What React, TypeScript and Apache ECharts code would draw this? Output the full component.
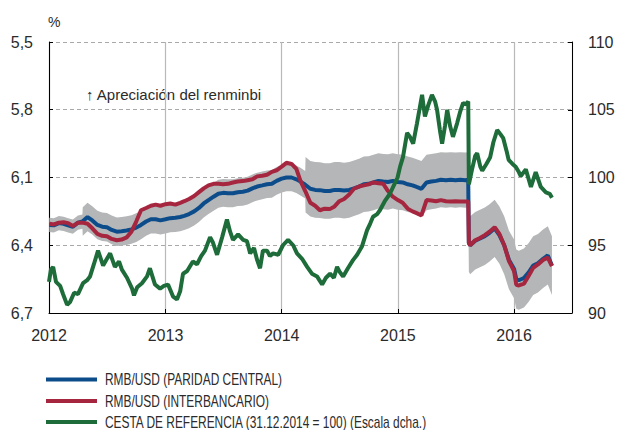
import React, { useEffect, useRef } from 'react';
import * as echarts from 'echarts';

// Shared dates for central parity, interbank rate and fluctuation band
const dates = [
  '2012-01-02','2012-01-16','2012-02-01','2012-02-16','2012-03-01','2012-03-16','2012-04-01','2012-04-15','2012-04-16',
  '2012-05-01','2012-05-16','2012-06-01','2012-06-16','2012-07-01','2012-07-16','2012-08-01','2012-08-16','2012-09-01',
  '2012-09-16','2012-10-01','2012-10-16','2012-11-01','2012-11-16','2012-12-01','2012-12-16',
  '2013-01-01','2013-01-16','2013-02-01','2013-02-16','2013-03-01','2013-03-16','2013-04-01','2013-04-16','2013-05-01',
  '2013-05-16','2013-06-01','2013-06-16','2013-07-01','2013-07-16','2013-08-01','2013-08-16','2013-09-01','2013-09-16',
  '2013-10-01','2013-10-16','2013-11-01','2013-11-16','2013-12-01','2013-12-16',
  '2014-01-01','2014-01-16','2014-02-01','2014-02-16','2014-03-01','2014-03-16','2014-03-17','2014-04-01','2014-04-16',
  '2014-05-01','2014-05-16','2014-06-01','2014-06-16','2014-07-01','2014-07-16','2014-08-01','2014-08-16','2014-09-01',
  '2014-09-16','2014-10-01','2014-10-16','2014-11-01','2014-11-16','2014-12-01','2014-12-16',
  '2015-01-01','2015-01-16','2015-02-01','2015-02-16','2015-03-01','2015-03-16','2015-04-01','2015-04-16','2015-05-01',
  '2015-05-16','2015-06-01','2015-06-16','2015-07-01','2015-07-16','2015-08-01','2015-08-10','2015-08-12','2015-08-16',
  '2015-09-01','2015-09-16','2015-10-01','2015-10-16','2015-11-01','2015-11-16','2015-12-01','2015-12-16',
  '2016-01-01','2016-01-08','2016-01-16','2016-02-01','2016-02-16','2016-03-01','2016-03-16','2016-04-01','2016-04-16',
  '2016-04-29'
];

const centralParity = [
  6.310, 6.312, 6.302, 6.305, 6.312, 6.318, 6.300, 6.295, 6.295,
  6.275, 6.290, 6.310, 6.318, 6.320, 6.332, 6.340, 6.338, 6.335,
  6.330, 6.322, 6.310, 6.295, 6.285, 6.285, 6.290,
  6.285, 6.280, 6.278, 6.275, 6.270, 6.262, 6.250, 6.235, 6.215,
  6.200, 6.185, 6.172, 6.168, 6.170, 6.170, 6.165, 6.163, 6.158,
  6.148, 6.140, 6.135, 6.130, 6.128, 6.115,
  6.105, 6.100, 6.100, 6.108, 6.118, 6.132, 6.132, 6.150, 6.155,
  6.156, 6.160, 6.160, 6.155, 6.155, 6.158, 6.155, 6.148, 6.140,
  6.130, 6.128, 6.122, 6.115, 6.118, 6.120, 6.115,
  6.120, 6.122, 6.130, 6.135, 6.142, 6.150, 6.122, 6.118, 6.115,
  6.110, 6.112, 6.110, 6.112, 6.110, 6.112, 6.110, 6.390, 6.400,
  6.380, 6.370, 6.360, 6.345, 6.325, 6.355, 6.400, 6.465,
  6.505, 6.550, 6.555, 6.545, 6.520, 6.490, 6.480, 6.460, 6.445,
  6.490
];

const interbank = [
  6.305, 6.308, 6.300, 6.298, 6.302, 6.315, 6.300, 6.300, 6.300,
  6.305, 6.325, 6.350, 6.358, 6.360, 6.372, 6.378, 6.375, 6.365,
  6.340, 6.295, 6.245, 6.235, 6.225, 6.220, 6.225,
  6.218, 6.215, 6.220, 6.212, 6.205, 6.195, 6.182, 6.165, 6.148,
  6.135, 6.128, 6.128, 6.130, 6.128, 6.122, 6.118, 6.116, 6.112,
  6.108, 6.095, 6.092, 6.088, 6.075, 6.068,
  6.052, 6.035, 6.040, 6.062, 6.115, 6.160, 6.160, 6.212, 6.225,
  6.245, 6.238, 6.240, 6.228, 6.205, 6.195, 6.175, 6.150, 6.140,
  6.135, 6.130, 6.122, 6.125, 6.128, 6.160, 6.185,
  6.200, 6.212, 6.238, 6.250, 6.258, 6.268, 6.200, 6.202, 6.205,
  6.200, 6.205, 6.206, 6.205, 6.206, 6.206, 6.206, 6.390, 6.400,
  6.378, 6.368, 6.355, 6.340, 6.320, 6.350, 6.400, 6.470,
  6.515, 6.575, 6.578, 6.570, 6.535, 6.500, 6.485, 6.465, 6.455,
  6.492
];

// Permitted fluctuation around the central parity (%)
const bandLimitPct = [
  0.5, 0.5, 0.5, 0.5, 0.5, 0.5, 0.5, 0.5, 1,
  1, 1, 1, 1, 1, 1, 1, 1, 1,
  1, 1, 1, 1, 1, 1, 1,
  1, 1, 1, 1, 1, 1, 1, 1, 1,
  1, 1, 1, 1, 1, 1, 1, 1, 1,
  1, 1, 1, 1, 1, 1,
  1, 1, 1, 1, 1, 1, 2, 2, 2,
  2, 2, 2, 2, 2, 2, 2, 2, 2,
  2, 2, 2, 2, 2, 2, 2,
  2, 2, 2, 2, 2, 2, 2, 2, 2,
  2, 2, 2, 2, 2, 2, 2, 2, 2,
  2, 2, 2, 2, 2, 2, 2, 2,
  2, 2, 2, 2, 2, 2, 2, 2, 2,
  2
];

const basketDates = [
  '2012-01-01','2012-01-07','2012-01-14','2012-01-23','2012-02-05','2012-02-14','2012-02-27','2012-03-07','2012-03-20',
  '2012-04-01','2012-04-17','2012-04-29','2012-05-09','2012-05-21','2012-06-03','2012-06-19','2012-07-01','2012-07-11',
  '2012-07-26','2012-08-08','2012-08-17','2012-09-02','2012-09-18','2012-09-24','2012-10-04','2012-10-19','2012-11-04',
  '2012-11-13','2012-11-29','2012-12-15','2012-12-27',
  '2013-01-09','2013-01-25','2013-02-06','2013-02-16','2013-02-25','2013-03-10','2013-03-28','2013-04-10','2013-04-23',
  '2013-05-05','2013-05-21','2013-05-30','2013-06-12','2013-06-28','2013-07-13','2013-07-23','2013-08-01','2013-08-17',
  '2013-09-02','2013-09-14','2013-09-24','2013-10-06','2013-10-16','2013-10-25','2013-11-03','2013-11-16','2013-11-25',
  '2013-12-05','2013-12-21',
  '2014-01-05','2014-01-21','2014-02-06','2014-02-18','2014-03-06','2014-03-22','2014-04-06','2014-04-22','2014-05-08',
  '2014-05-20','2014-06-02','2014-06-14','2014-06-24','2014-07-03','2014-07-13','2014-07-28','2014-08-13','2014-08-26',
  '2014-09-10','2014-09-26','2014-10-06','2014-10-15','2014-10-28','2014-11-06','2014-11-22','2014-12-07','2014-12-23',
  '2014-12-31',
  '2015-01-08','2015-01-17','2015-01-30','2015-02-08','2015-02-18','2015-03-02','2015-03-18','2015-03-27','2015-04-06',
  '2015-04-18','2015-04-28','2015-05-04','2015-05-13','2015-05-20','2015-05-29','2015-06-05','2015-06-14','2015-06-23',
  '2015-07-06','2015-07-15','2015-07-25','2015-08-03','2015-08-10','2015-08-12','2015-08-22','2015-09-01','2015-09-07',
  '2015-09-17','2015-09-23','2015-10-06','2015-10-18','2015-10-28','2015-11-09','2015-11-19','2015-11-28','2015-12-08',
  '2015-12-15','2015-12-27',
  '2016-01-06','2016-01-16','2016-01-22','2016-02-07','2016-02-23','2016-03-09','2016-03-25','2016-04-10','2016-04-22',
  '2016-04-29'
];

const basketIndex = [
  92.3, 93.2, 93.4, 92.3, 92.0, 91.4, 90.6, 90.8, 91.5,
  91.4, 92.2, 92.4, 92.7, 93.6, 94.6, 93.5, 94.0, 94.4,
  93.4, 93.8, 93.2, 92.6, 91.8, 91.3, 91.9, 92.2, 92.7,
  93.3, 92.1, 91.8, 92.0,
  92.1, 91.2, 91.0, 91.6, 92.9, 93.1, 93.8, 93.6, 94.2,
  94.6, 95.6, 95.2, 94.3, 95.6, 96.9, 96.0, 95.4, 95.8,
  95.4, 95.3, 94.4, 94.8, 93.9, 93.3, 94.6, 94.6, 94.2,
  94.4, 94.3,
  95.0, 95.4, 95.0, 94.4, 94.0, 93.4, 92.9, 92.7, 92.1,
  92.6, 92.9, 92.6, 93.4, 93.0, 92.7, 93.3, 93.9, 94.3,
  94.9, 96.1, 96.6, 97.1, 97.3, 97.6, 98.3, 98.8, 99.6,
  100.0,
  100.8, 101.5, 103.3, 103.0, 102.5, 104.0, 106.1, 104.5, 105.3,
  106.1, 105.6, 105.0, 103.5, 102.5, 103.8, 105.0, 103.8, 103.0,
  104.0, 104.8, 105.5, 105.4, 105.6, 99.5, 100.6, 101.6, 101.8,
  100.8, 100.5, 101.0, 101.5, 102.6, 103.5, 103.2, 102.9, 102.0,
  101.3, 101.0,
  100.8, 100.4, 100.1, 100.6, 99.3, 100.4, 99.3, 98.9, 98.8,
  98.5
];

const leftAxisRange = [5.5, 6.7];
const leftAxisStep = 0.3;
const rightAxisRange = [90, 110];
const rightAxisStep = 5;

const names = {
  central: 'RMB/USD (PARIDAD CENTRAL)',
  interbank: 'RMB/USD (INTERBANCARIO)',
  basket: 'CESTA DE REFERENCIA (31.12.2014 = 100) (Escala dcha.)',
};

const BLUE = '#0d4c8b';
const RED = '#a6253f';
const GREEN = '#1d6c39';
const GRAY = '#b4b6b7';
const TEXT = '#2b2b2b';
const FONT = "'Liberation Sans', Arial, sans-serif";

export default function App() {
  const ref = useRef<HTMLDivElement>(null);

  useEffect(() => {
    document.body.style.margin = '0';
    const chart = echarts.init(ref.current!, null, { renderer: 'svg' });

    const bandLow = dates.map((d, i) => [d, +(centralParity[i] * (1 - bandLimitPct[i] / 100)).toFixed(4)]);
    const bandSpan = dates.map((d, i) => [d, +(centralParity[i] * (2 * bandLimitPct[i] / 100)).toFixed(4)]);

    const legendItems = [
      { name: names.central, color: BLUE },
      { name: names.interbank, color: RED },
      { name: names.basket, color: GREEN },
    ];
    const legendRows = [379.5, 401, 422];
    const legendGraphics: any[] = [];
    legendItems.forEach((it, i) => {
      legendGraphics.push({
        type: 'rect',
        shape: { x: 46, y: legendRows[i] - 2, width: 51, height: 4 },
        style: { fill: it.color },
        silent: true,
      });
      legendGraphics.push({
        type: 'text',
        x: 105,
        y: legendRows[i],
        scaleX: 0.745,
        style: {
          text: it.name,
          font: `16px ${FONT}`,
          fill: TEXT,
          textVerticalAlign: 'middle',
        },
        silent: true,
      });
    });

    const option: any = {
      animation: false,
      textStyle: { fontFamily: FONT },
      grid: { left: 49, right: 47, top: 42, bottom: 117, containLabel: false },
      xAxis: {
        type: 'time',
        min: '2012-01-01',
        max: '2016-07-01',
        minInterval: 365 * 24 * 3600 * 1000,
        axisLine: { show: true, lineStyle: { color: '#000', width: 1 } },
        axisTick: { show: true, inside: true, length: 4, lineStyle: { color: '#000' } },
        axisLabel: {
          show: true,
          margin: 14,
          fontSize: 16,
          color: TEXT,
          fontFamily: FONT,
          showMaxLabel: false,
          formatter: (v: number) => {
            const d = new Date(v);
            return d.getMonth() === 0 ? String(d.getFullYear()) : '';
          },
        },
        splitLine: { show: true, lineStyle: { color: '#b9b9b9', width: 1.2 } },
      },
      yAxis: [
        {
          type: 'value',
          position: 'left',
          inverse: true,
          min: leftAxisRange[0],
          max: leftAxisRange[1],
          interval: leftAxisStep,
          axisLine: { show: true, lineStyle: { color: '#000', width: 1 } },
          axisTick: { show: true, inside: true, length: 4, lineStyle: { color: '#000' } },
          axisLabel: {
            margin: 16,
            fontSize: 16,
            color: TEXT,
            fontFamily: FONT,
            formatter: (v: number) => v.toFixed(1).replace('.', ','),
          },
          splitLine: { show: true, lineStyle: { color: '#a9a9a9', width: 1, type: [4, 3] } },
        },
        {
          type: 'value',
          position: 'right',
          min: rightAxisRange[0],
          max: rightAxisRange[1],
          interval: rightAxisStep,
          axisLine: { show: true, lineStyle: { color: '#000', width: 1 } },
          axisTick: { show: true, inside: true, length: 4, lineStyle: { color: '#000' } },
          axisLabel: { margin: 16, fontSize: 16, color: TEXT, fontFamily: FONT },
          splitLine: { show: false },
        },
      ],
      graphic: [
        {
          type: 'text',
          x: 48,
          y: 22,
          style: { text: '%', font: `14px ${FONT}`, fill: TEXT, textVerticalAlign: 'middle' },
        },
        {
          type: 'text',
          x: 86,
          y: 94,
          style: {
            text: '↑ Apreciación del renminbi',
            font: `15px ${FONT}`,
            fill: TEXT,
            textVerticalAlign: 'middle',
          },
        },
        ...legendGraphics,
      ],
      series: [
        {
          name: 'bandLow',
          type: 'line',
          stack: 'band',
          data: bandLow,
          symbol: 'none',
          lineStyle: { opacity: 0 },
          silent: true,
        },
        {
          name: 'bandSpan',
          type: 'line',
          stack: 'band',
          data: bandSpan,
          symbol: 'none',
          lineStyle: { opacity: 0 },
          areaStyle: { color: GRAY, opacity: 1 },
          silent: true,
        },
        {
          name: names.central,
          type: 'line',
          data: dates.map((d, i) => [d, centralParity[i]]),
          symbol: 'none',
          color: BLUE,
          lineStyle: { color: BLUE, width: 4 },
        },
        {
          name: names.interbank,
          type: 'line',
          data: dates.map((d, i) => [d, interbank[i]]),
          symbol: 'none',
          color: RED,
          lineStyle: { color: RED, width: 4 },
        },
        {
          name: names.basket,
          type: 'line',
          yAxisIndex: 1,
          data: basketDates.map((d, i) => [d, basketIndex[i]]),
          symbol: 'none',
          color: GREEN,
          lineStyle: { color: GREEN, width: 4 },
        },
      ],
    };

    chart.setOption(option);
    return () => chart.dispose();
  }, []);

  return <div ref={ref} style={{ width: 619, height: 430 }} />;
}
